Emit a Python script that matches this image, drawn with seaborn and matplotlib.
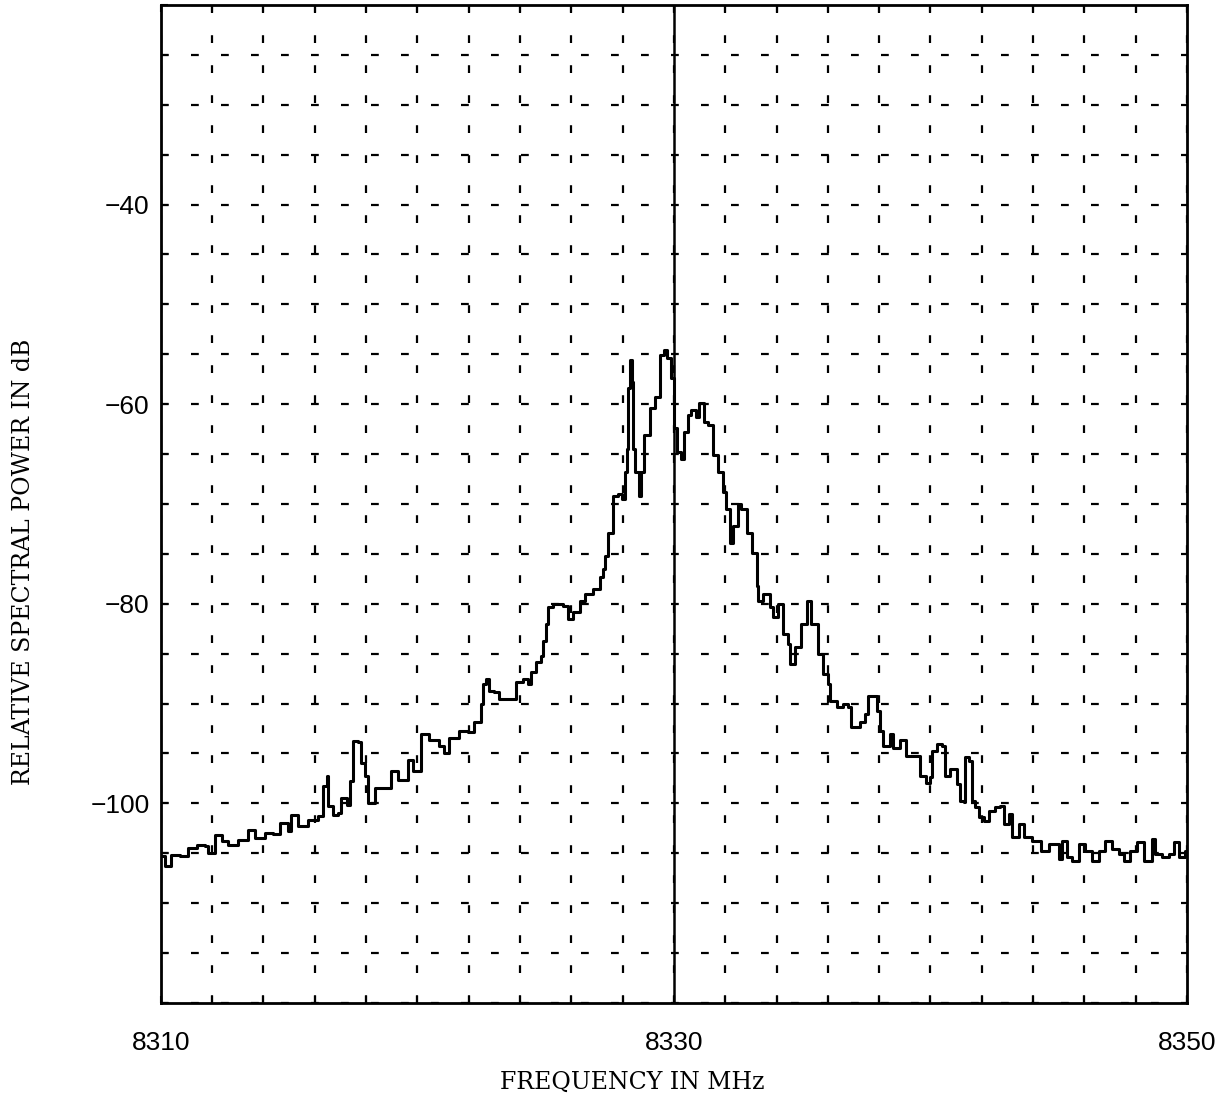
import numpy as np
import pandas as pd
import matplotlib
matplotlib.use("Agg")
import matplotlib.pyplot as plt
import seaborn as sns

# Spectrum trace: frequency (MHz) and relative spectral power (dB)
freq_mhz = [
    8310.00, 8310.16, 8310.41, 8310.74, 8311.07, 8311.39, 8311.72, 8311.85,
    8312.11, 8312.37, 8312.62, 8313.01, 8313.40, 8313.66, 8314.05, 8314.38,
    8314.64, 8314.96, 8315.09, 8315.35, 8315.74, 8316.13, 8316.33, 8316.46,
    8316.52, 8316.72, 8316.91, 8317.04, 8317.24, 8317.37, 8317.50, 8317.69,
    8317.82, 8317.95, 8318.08, 8318.34, 8318.73, 8318.99, 8319.25, 8319.64,
    8319.84, 8320.13, 8320.46, 8320.85, 8321.04, 8321.24, 8321.63, 8321.96,
    8322.22, 8322.48, 8322.54, 8322.67, 8322.80, 8323.00, 8323.19, 8323.72,
    8323.85, 8324.11, 8324.30, 8324.43, 8324.63, 8324.82, 8324.89, 8325.02,
    8325.08, 8325.28, 8325.67, 8325.87, 8326.06, 8326.32, 8326.52, 8326.84,
    8327.11, 8327.24, 8327.30, 8327.43, 8327.61, 8327.83, 8327.96, 8328.09,
    8328.16, 8328.22, 8328.29, 8328.36, 8328.42, 8328.49, 8328.62, 8328.71,
    8328.82, 8329.08, 8329.28, 8329.47, 8329.61, 8329.74, 8329.87, 8330.00,
    8330.13, 8330.26, 8330.39, 8330.53, 8330.66, 8330.86, 8330.99, 8331.18,
    8331.32, 8331.51, 8331.71, 8331.91, 8332.04, 8332.17, 8332.30, 8332.50,
    8332.63, 8332.83, 8333.03, 8333.22, 8333.29, 8333.48, 8333.74, 8333.87,
    8334.06, 8334.26, 8334.45, 8334.52, 8334.71, 8334.97, 8335.17, 8335.36,
    8335.62, 8335.82, 8336.01, 8336.08, 8336.34, 8336.60, 8336.79, 8336.92,
    8337.25, 8337.44, 8337.57, 8337.77, 8337.90, 8338.03, 8338.16, 8338.42,
    8338.55, 8338.81, 8339.06, 8339.39, 8339.58, 8339.84, 8340.00, 8340.06,
    8340.26, 8340.45, 8340.58, 8340.78, 8340.91, 8341.04, 8341.17, 8341.30,
    8341.36, 8341.49, 8341.62, 8341.75, 8341.88, 8342.08, 8342.27, 8342.53,
    8342.73, 8342.86, 8343.05, 8343.18, 8343.44, 8343.64, 8343.96, 8344.29,
    8344.61, 8344.87, 8345.00, 8345.13, 8345.32, 8345.52, 8345.78, 8346.04,
    8346.30, 8346.56, 8346.82, 8347.08, 8347.34, 8347.53, 8347.79, 8348.05,
    8348.31, 8348.64, 8348.77, 8349.03, 8349.29, 8349.48, 8349.68, 8349.94,
]
power_db = [
    -105.3, -106.3, -105.2, -105.3, -104.5, -104.2, -104.3, -105.0,
    -103.2, -103.8, -104.2, -103.7, -102.7, -103.5, -103.0, -103.1,
    -102.0, -102.8, -101.2, -102.3, -101.7, -101.3, -98.3, -97.3,
    -100.3, -101.2, -101.0, -99.5, -100.2, -97.8, -93.8, -93.9,
    -96.0, -97.3, -100.0, -98.5, -98.5, -96.8, -97.7, -95.7,
    -96.8, -93.0, -93.7, -94.3, -95.0, -93.5, -92.7, -92.8,
    -91.8, -90.0, -88.0, -87.5, -88.7, -88.8, -89.5, -89.5,
    -87.8, -87.5, -88.0, -86.8, -85.8, -85.2, -83.7, -82.0,
    -80.3, -80.0, -80.2, -81.5, -80.8, -79.7, -79.0, -78.5,
    -77.3, -76.5, -75.2, -72.9, -69.2, -69.0, -69.5, -66.8,
    -64.5, -58.4, -55.6, -57.8, -64.5, -66.8, -69.2, -66.8,
    -63.1, -60.4, -59.3, -55.1, -54.6, -55.4, -57.4, -62.4,
    -64.8, -65.5, -62.8, -61.1, -60.6, -61.3, -59.9, -61.8,
    -62.1, -65.1, -66.8, -68.8, -70.5, -73.9, -72.2, -70.0,
    -70.5, -72.9, -74.9, -78.2, -79.7, -79.0, -80.3, -81.3,
    -80.0, -83.0, -84.0, -86.0, -84.3, -82.0, -79.7, -82.0,
    -85.0, -87.0, -88.0, -89.7, -90.3, -90.0, -90.3, -92.3,
    -91.8, -91.0, -89.2, -89.2, -90.7, -92.7, -94.3, -93.0,
    -94.5, -93.7, -95.3, -95.3, -97.3, -98.0, -97.4, -94.8,
    -94.1, -94.3, -97.3, -96.6, -96.6, -98.1, -99.8, -99.9,
    -95.4, -95.8, -99.8, -100.4, -101.4, -101.8, -100.8, -100.4,
    -100.3, -102.1, -101.1, -103.4, -102.1, -103.4, -103.8, -104.8,
    -104.1, -104.1, -105.6, -103.8, -105.4, -105.8, -104.1, -104.8,
    -105.8, -104.8, -103.8, -104.6, -105.1, -105.8, -104.8, -103.9,
    -105.8, -103.6, -105.1, -105.4, -105.1, -103.9, -105.4, -104.8,
]

x_ticks = list(range(8310, 8351, 2))
x_tick_labels = {8310: "8310", 8330: "8330", 8350: "8350"}
y_ticks = list(range(-120, -19, 5))
y_tick_labels = {-40: "\u221240", -60: "\u221260", -80: "\u221280", -100: "\u2212100"}
center_freq = 8330

sns.set_style("white")
plt.rcParams["font.family"] = ["Liberation Sans", "DejaVu Sans"]
plt.rcParams["text.color"] = "black"
plt.rcParams["axes.labelcolor"] = "black"
plt.rcParams["xtick.color"] = "black"
plt.rcParams["ytick.color"] = "black"

df = pd.DataFrame({"freq": freq_mhz, "power": power_db})

fig = plt.figure(figsize=(12.28, 11.08), dpi=100)
ax = fig.add_axes([0.131, 0.0948, 0.8356, 0.9007])

# dashed reference grid
for xv in x_ticks:
    ax.axvline(xv, color="black", lw=1.6, ls=(0, (3.5, 10)), zorder=1)
for yv in y_ticks:
    ax.axhline(yv, color="black", lw=1.6, ls=(0, (3.5, 10)), zorder=1)
ax.axvline(center_freq, color="black", lw=1.8, zorder=2)

sns.lineplot(data=df, x="freq", y="power", color="black", lw=2.2,
             drawstyle="steps-post", estimator=None, sort=False, ax=ax, zorder=3)

ax.set_xlim(8310, 8350)
ax.set_ylim(-120, -20)
ax.set_xticks(x_ticks)
ax.set_xticklabels([x_tick_labels.get(t, "") for t in x_ticks])
ax.set_yticks(y_ticks)
ax.set_yticklabels([y_tick_labels.get(t, "") for t in y_ticks])
ax.tick_params(axis="both", direction="in", length=5, width=1.5, colors="black",
               labelsize=19, top=True, right=False, bottom=True, left=True)
ax.tick_params(axis="x", pad=20)
ax.tick_params(axis="y", pad=8)

for s in ax.spines.values():
    s.set_color("black")
    s.set_linewidth(2)

ax.set_xlabel("FREQUENCY IN MHz", fontsize=17, family=["DejaVu Serif"], color="black")
ax.set_ylabel("RELATIVE SPECTRAL POWER IN dB", fontsize=17, family=["DejaVu Serif"],
              color="black")
ax.xaxis.set_label_coords(0.459, -0.068)
ax.yaxis.set_label_coords(-0.1228, 0.442)

fig.savefig("out.png", dpi=100, facecolor="white")
